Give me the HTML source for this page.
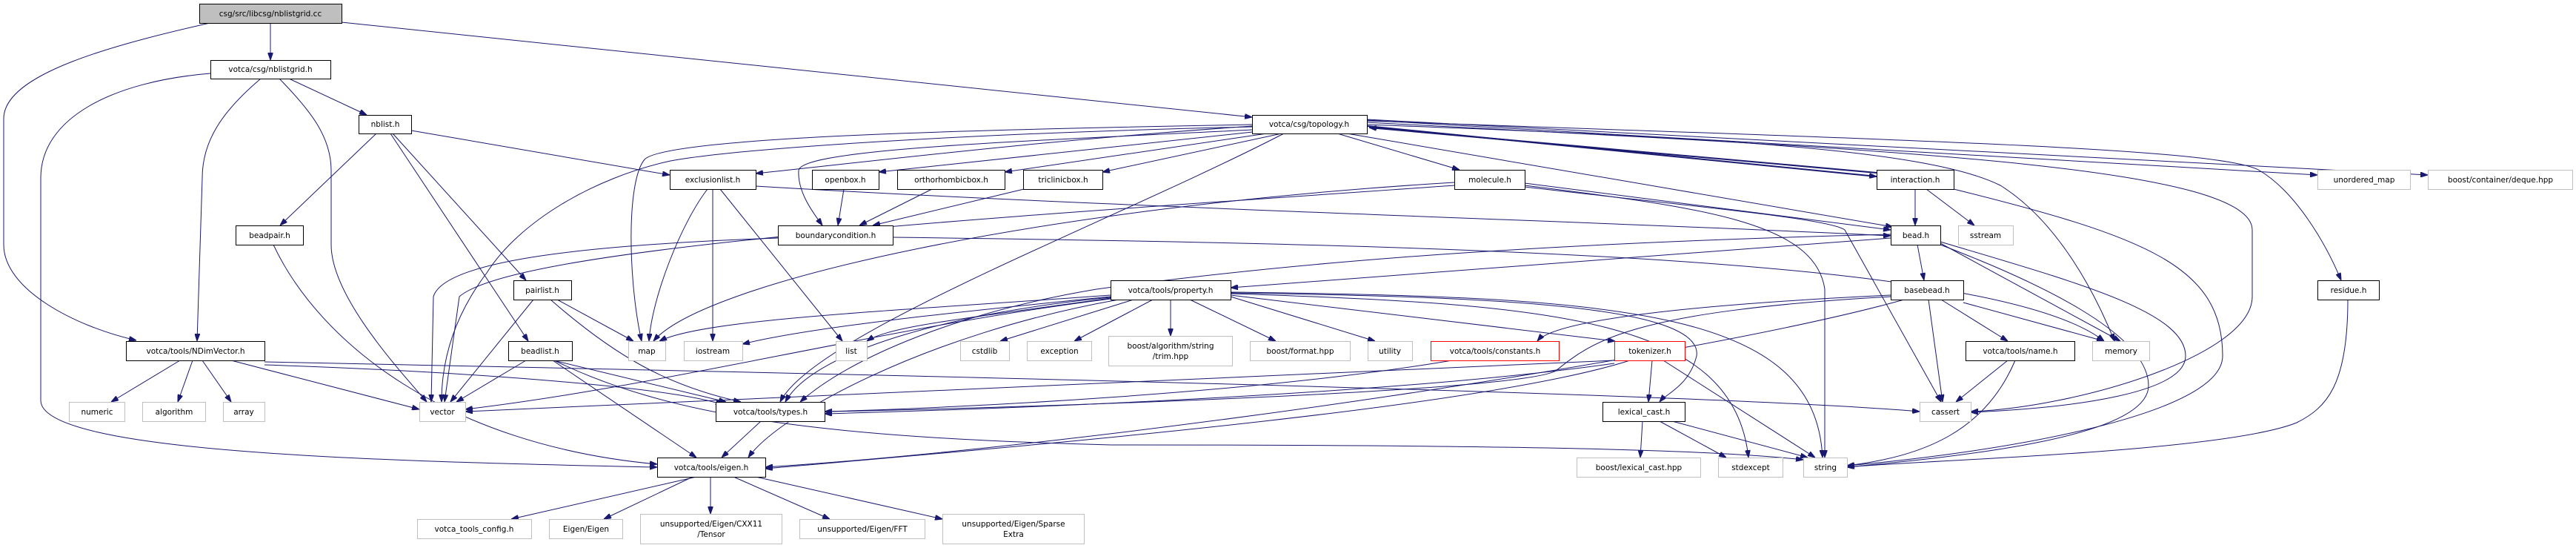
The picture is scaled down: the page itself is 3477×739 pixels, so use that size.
<!DOCTYPE html>
<html><head><meta charset="utf-8"><style>
html,body{margin:0;padding:0;background:#fff;}
svg{display:block;}
text{font-family:"DejaVu Sans","Liberation Sans",sans-serif;font-size:10.5px;fill:#000;text-anchor:middle;}
.e{fill:none;stroke:#191970;stroke-width:1;}
</style></head><body>
<svg width="3477" height="739" viewBox="0 0 3477 739" xmlns="http://www.w3.org/2000/svg">
<defs><marker id="a" markerWidth="10" markerHeight="7" refX="10" refY="3.5" orient="auto" markerUnits="userSpaceOnUse"><path d="M0,0 L10,3.5 L0,7 z" fill="#191970" stroke="#191970"/></marker></defs>
<g class="e" marker-end="url(#a)">
<path d="M365,31 L365,81"/>
<path d="M306,26 C150,60 5,100 5,160 L5,330 C5,390 100,440 184,459"/>
<path d="M461,30 L1690,158"/>
<path d="M284,99 C150,110 55,160 55,240 L55,540 C55,610 500,622 887,630"/>
<path d="M352,106 C300,150 273,190 273,240 L266,460"/>
<path d="M377,106 C420,150 447,185 447,230 L447,330 C447,400 540,500 576,542"/>
<path d="M390,106 L495,155"/>
<path d="M508,180 L378,304"/>
<path d="M555,176 L904,236"/>
<path d="M530,180 L710,378"/>
<path d="M527,180 L713,460"/>
<path d="M369,330 C430,460 600,600 887,626"/>
<path d="M955,255 C920,300 880,400 876,460"/>
<path d="M962,255 L962,460"/>
<path d="M972,255 L1137,460"/>
<path d="M1020,251 C1500,280 2200,300 2552,318"/>
<path d="M1139,255 L1131,304"/>
<path d="M1258,255 L1160,304"/>
<path d="M1382,255 L1178,304"/>
<path d="M1690,170 C1400,190 1200,215 1020,234"/>
<path d="M1700,177 L1186,232"/>
<path d="M1710,180 L1356,232"/>
<path d="M1730,180 L1488,232"/>
<path d="M1690,175 C1400,190 1080,200 1078,230 C1076,260 1100,290 1110,304"/>
<path d="M1690,168 C1300,175 900,185 870,215 C845,245 848,380 866,460"/>
<path d="M1690,171 C1300,180 1000,200 905,217 C800,240 700,300 657,368 C610,430 596,490 596,542"/>
<path d="M1733,180 C1500,300 1100,450 1053,542"/>
<path d="M1805,180 L1970,229"/>
<path d="M1845,170 L2533,238" style="stroke-width:2"/>
<path d="M2533,233 L1848,172" style="stroke-width:2"/>
<path d="M1818,180 L2555,306"/>
<path d="M1845,168 C2300,185 2600,200 2700,250 C2780,300 2830,400 2854,460"/>
<path d="M1845,165 C2500,200 3040,220 3040,310 L3040,400 C3040,480 2800,550 2660,555"/>
<path d="M1845,163 C2600,190 3000,200 3050,230 C3100,260 3140,330 3160,378"/>
<path d="M1845,162 L3128,236"/>
<path d="M1845,161 L3277,236"/>
<path d="M2637,255 C2900,320 3000,360 3000,480 C3000,560 2700,610 2493,628"/>
<path d="M2585,255 L2585,304"/>
<path d="M2600,255 L2665,304"/>
<path d="M2058,247 L2552,310"/>
<path d="M2058,250 C2300,280 2450,300 2463,390 L2463,617"/>
<path d="M2058,252 C2300,280 2470,295 2490,310 L2620,542"/>
<path d="M1963,246 C1400,280 950,380 882,460"/>
<path d="M1963,250 C1400,290 700,330 620,400 L600,542"/>
<path d="M1050,321 C800,330 600,350 585,400 L582,542"/>
<path d="M1205,320 C2000,330 2700,350 2840,460"/>
<path d="M2552,321 L1661,388"/>
<path d="M2552,316 C2000,330 1700,360 1480,390 C1300,420 1150,480 1080,542"/>
<path d="M2588,330 L2597,378"/>
<path d="M2619,330 C2750,380 2900,450 2900,520 C2900,590 2650,615 2493,630"/>
<path d="M2619,326 C2800,380 2950,420 2950,480 C2950,530 2800,550 2660,556"/>
<path d="M2619,328 L2862,460"/>
<path d="M2552,398 C2300,410 2100,430 2075,460"/>
<path d="M2552,400 C2200,420 2150,460 2100,500 C2050,530 1300,552 1113,555"/>
<path d="M2570,404 C2300,480 1500,600 1033,630"/>
<path d="M2603,404 L2622,542"/>
<path d="M2620,404 L2710,460"/>
<path d="M2650,408 L2840,460"/>
<path d="M1499,398 C1200,420 950,430 890,460"/>
<path d="M1499,400 C1300,420 1100,440 1002,464"/>
<path d="M1499,402 C1300,430 1200,440 1170,460"/>
<path d="M1530,404 L1350,460"/>
<path d="M1556,404 L1450,460"/>
<path d="M1580,404 L1580,453"/>
<path d="M1606,404 L1722,460"/>
<path d="M1661,400 L1856,460"/>
<path d="M1661,398 L2180,460"/>
<path d="M1661,395 C2000,400 2300,410 2290,480 C2280,520 2250,530 2240,542"/>
<path d="M1661,396 C2100,410 2340,430 2360,617"/>
<path d="M1661,394 C2200,400 2450,420 2460,617"/>
<path d="M1499,401 C1300,420 1100,470 1060,542"/>
<path d="M1510,404 C1250,450 1050,560 1010,617"/>
<path d="M1499,403 C1200,440 900,520 628,552"/>
<path d="M752,404 L855,460"/>
<path d="M720,404 L608,542"/>
<path d="M743,404 C830,480 900,520 1000,542"/>
<path d="M710,486 L616,542"/>
<path d="M747,486 L980,542"/>
<path d="M746,486 L940,617"/>
<path d="M748,486 C900,560 1100,590 1500,600 C2000,600 2300,605 2434,620"/>
<path d="M243,486 L150,542"/>
<path d="M260,486 L240,542"/>
<path d="M273,486 L312,542"/>
<path d="M312,486 L566,552"/>
<path d="M357,492 C600,500 900,520 976,546"/>
<path d="M357,488 C1200,505 2300,530 2591,555"/>
<path d="M1960,486 C1700,530 1300,550 1113,555"/>
<path d="M2230,486 L2225,542"/>
<path d="M2245,486 L2450,617"/>
<path d="M2179,490 C1900,530 1400,550 1113,558"/>
<path d="M2179,486 C1500,520 900,540 628,555"/>
<path d="M2200,486 C2000,550 1400,600 1033,632"/>
<path d="M2710,486 L2640,542"/>
<path d="M2720,486 C2680,580 2600,615 2493,628"/>
<path d="M2217,568 L2214,617"/>
<path d="M2240,568 L2330,617"/>
<path d="M2257,568 L2440,617"/>
<path d="M1027,568 L974,617"/>
<path d="M3169,404 C3169,520 3140,550 3100,570 C3000,610 2600,620 2493,630"/>
<path d="M940,643 L690,700"/>
<path d="M935,643 L815,700"/>
<path d="M959,643 L959,693"/>
<path d="M990,643 L1120,700"/>
<path d="M1020,643 L1272,700"/>
</g>
<g>
<rect x="269.5" y="5.5" width="192" height="26" fill="#bfbfbf" stroke="#000"/><text x="365" y="22">csg/src/libcsg/nblistgrid.cc</text>
<g fill="#fff" stroke="#000">
<rect x="284.5" y="81.5" width="162" height="25"/>
<rect x="484.5" y="155.5" width="71" height="25"/>
<rect x="1690.5" y="155.5" width="155" height="25"/>
<rect x="904.5" y="229.5" width="116" height="26"/>
<rect x="1096.5" y="229.5" width="90" height="26"/>
<rect x="1211.5" y="229.5" width="145" height="26"/>
<rect x="1381.5" y="229.5" width="107" height="26"/>
<rect x="1963.5" y="229.5" width="95" height="26"/>
<rect x="2533.5" y="229.5" width="104" height="26"/>
<rect x="318.5" y="304.5" width="91" height="26"/>
<rect x="1050.5" y="304.5" width="155" height="26"/>
<rect x="2552.5" y="304.5" width="67" height="26"/>
<rect x="693.5" y="378.5" width="78" height="26"/>
<rect x="1499.5" y="378.5" width="162" height="26"/>
<rect x="2552.5" y="378.5" width="98" height="26"/>
<rect x="3128.5" y="378.5" width="83" height="26"/>
<rect x="170.5" y="460.5" width="187" height="26"/>
<rect x="686.5" y="460.5" width="86" height="26"/>
<rect x="2653.5" y="460.5" width="147" height="26"/>
<rect x="966.5" y="542.5" width="147" height="26"/>
<rect x="2163.5" y="542.5" width="111" height="26"/>
<rect x="887.5" y="617.5" width="146" height="26"/>
</g>
<g fill="#fff" stroke="#f00">
<rect x="1931.5" y="460.5" width="173" height="26"/>
<rect x="2179.5" y="460.5" width="95" height="26"/>
</g>
<g fill="#fff" stroke="#bfbfbf">
<rect x="3128.5" y="229.5" width="125" height="26"/>
<rect x="3277.5" y="229.5" width="195" height="26"/>
<rect x="2643.5" y="304.5" width="74" height="26"/>
<rect x="848.5" y="460.5" width="50" height="26"/>
<rect x="923.5" y="460.5" width="79" height="26"/>
<rect x="1128.5" y="460.5" width="42" height="26"/>
<rect x="1296.5" y="460.5" width="66" height="26"/>
<rect x="1386.5" y="460.5" width="87" height="26"/>
<rect x="1496.5" y="453.5" width="167" height="40"/>
<rect x="1687.5" y="460.5" width="135" height="26"/>
<rect x="1846.5" y="460.5" width="60" height="26"/>
<rect x="2824.5" y="460.5" width="77" height="26"/>
<rect x="93.5" y="542.5" width="75" height="26"/>
<rect x="192.5" y="542.5" width="85" height="26"/>
<rect x="301.5" y="542.5" width="56" height="26"/>
<rect x="566.5" y="542.5" width="62" height="26"/>
<rect x="2591.5" y="542.5" width="69" height="26"/>
<rect x="2128.5" y="617.5" width="167" height="26"/>
<rect x="2319.5" y="617.5" width="87" height="26"/>
<rect x="2434.5" y="617.5" width="59" height="26"/>
<rect x="563.5" y="700.5" width="154" height="26"/>
<rect x="741.5" y="700.5" width="99" height="26"/>
<rect x="864.5" y="693.5" width="191" height="40"/>
<rect x="1079.5" y="700.5" width="169" height="26"/>
<rect x="1272.5" y="693.5" width="191" height="40"/>
</g>
<text x="365" y="97">votca/csg/nblistgrid.h</text>
<text x="520" y="171">nblist.h</text>
<text x="1767" y="171">votca/csg/topology.h</text>
<text x="962" y="246">exclusionlist.h</text>
<text x="1141" y="246">openbox.h</text>
<text x="1284" y="246">orthorhombicbox.h</text>
<text x="1435" y="246">triclinicbox.h</text>
<text x="2011" y="246">molecule.h</text>
<text x="2585" y="246">interaction.h</text>
<text x="3191" y="246">unordered_map</text>
<text x="3375" y="246">boost/container/deque.hpp</text>
<text x="364" y="321">beadpair.h</text>
<text x="1128" y="321">boundarycondition.h</text>
<text x="2586" y="321">bead.h</text>
<text x="2680" y="321">sstream</text>
<text x="732" y="395">pairlist.h</text>
<text x="1580" y="395">votca/tools/property.h</text>
<text x="2601" y="395">basebead.h</text>
<text x="3170" y="395">residue.h</text>
<text x="264" y="477">votca/tools/NDimVector.h</text>
<text x="729" y="477">beadlist.h</text>
<text x="873" y="477">map</text>
<text x="962" y="477">iostream</text>
<text x="1149" y="477">list</text>
<text x="1329" y="477">cstdlib</text>
<text x="1430" y="477">exception</text>
<text x="1580" y="470">boost/algorithm/string</text>
<text x="1580" y="484">/trim.hpp</text>
<text x="1755" y="477">boost/format.hpp</text>
<text x="1876" y="477">utility</text>
<text x="2018" y="477">votca/tools/constants.h</text>
<text x="2227" y="477">tokenizer.h</text>
<text x="2727" y="477">votca/tools/name.h</text>
<text x="2863" y="477">memory</text>
<text x="131" y="559">numeric</text>
<text x="235" y="559">algorithm</text>
<text x="329" y="559">array</text>
<text x="597" y="559">vector</text>
<text x="1040" y="559">votca/tools/types.h</text>
<text x="2219" y="559">lexical_cast.h</text>
<text x="2626" y="559">cassert</text>
<text x="960" y="634">votca/tools/eigen.h</text>
<text x="2212" y="634">boost/lexical_cast.hpp</text>
<text x="2363" y="634">stdexcept</text>
<text x="2464" y="634">string</text>
<text x="640" y="717">votca_tools_config.h</text>
<text x="791" y="717">Eigen/Eigen</text>
<text x="960" y="710">unsupported/Eigen/CXX11</text>
<text x="960" y="724">/Tensor</text>
<text x="1164" y="717">unsupported/Eigen/FFT</text>
<text x="1368" y="710">unsupported/Eigen/Sparse</text>
<text x="1368" y="724">Extra</text>
</g>
</svg>
</body></html>
